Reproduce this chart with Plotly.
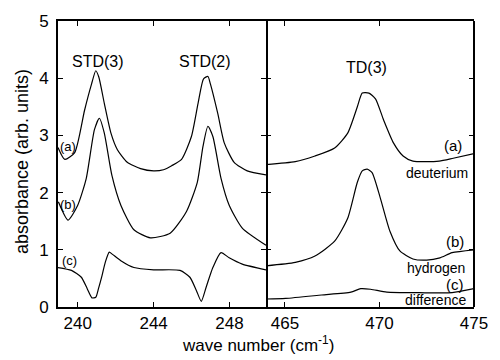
import plotly.graph_objects as go
from plotly.subplots import make_subplots

# ---- data ----
left_a_x = [238.96, 239.32, 239.84, 240.36, 240.73, 240.95, 241.11, 241.40, 241.75, 242.09, 242.61,
            243.31, 244.0, 244.52, 244.95, 245.47, 245.99, 246.34, 246.63, 246.86, 246.99, 247.38,
            247.72, 248.24, 248.93, 249.92]
left_a_y = [2.79, 2.58, 2.70, 3.44, 3.90, 4.13, 4.02, 3.56, 3.04, 2.75, 2.53,
            2.42, 2.38, 2.40, 2.47, 2.58, 2.98, 3.56, 3.99, 4.03, 3.90, 3.38,
            2.87, 2.53, 2.38, 2.31]

left_b_x = [238.98, 239.49, 240.0, 240.45, 240.88, 241.14, 241.40, 241.80, 242.27, 242.96, 243.83,
            244.87, 245.73, 246.30, 246.60, 246.86, 247.12, 247.55, 247.98, 248.67, 249.92]
left_b_y = [1.84, 1.52, 1.78, 2.25, 3.10, 3.30, 3.04, 2.30, 1.78, 1.35, 1.21,
            1.29, 1.67, 2.18, 2.81, 3.16, 2.98, 2.25, 1.78, 1.38, 1.08]

left_c_x = [238.96, 239.67, 240.19, 240.50, 240.75, 240.95, 241.10, 241.28, 241.45, 241.66, 241.83,
            242.27, 242.96, 244.0, 245.39, 245.91, 246.25, 246.51, 246.77, 247.12, 247.55,
            247.98, 248.67, 249.92]
left_c_y = [0.69, 0.64, 0.52, 0.32, 0.16, 0.17, 0.33, 0.55, 0.78, 0.96, 0.92,
            0.81, 0.69, 0.65, 0.64, 0.52, 0.29, 0.10, 0.35, 0.69, 0.95,
            0.86, 0.75, 0.65]

right_a_x = [464.0, 465.55, 466.59, 467.63, 468.32, 468.83, 469.09, 469.44, 469.79, 470.22, 470.74,
             471.25, 471.77, 472.46, 473.16, 473.9, 475.0]
right_a_y = [2.49, 2.54, 2.64, 2.78, 3.04, 3.50, 3.74, 3.74, 3.64, 3.27, 2.87,
             2.64, 2.55, 2.54, 2.55, 2.60, 2.68]

right_b_x = [464.0, 465.55, 466.59, 467.63, 468.32, 468.83, 469.09, 469.35, 469.61, 470.05, 470.56,
             471.08, 471.77, 472.5, 473.2, 473.84, 475.0]
right_b_y = [0.72, 0.78, 0.89, 1.15, 1.55, 2.18, 2.38, 2.41, 2.35, 1.90, 1.32,
             0.98, 0.84, 0.82, 0.86, 0.95, 1.00]

right_c_x = [464.0, 465.04, 466.94, 468.49, 469.01, 469.53, 470.39, 472.12, 473.84, 475.0]
right_c_y = [0.14, 0.15, 0.21, 0.26, 0.32, 0.31, 0.26, 0.25, 0.25, 0.32]

left_ticks = [240, 244, 248]
right_ticks = [465, 470, 475]
y_ticks = [0, 1, 2, 3, 4, 5]

FONT = "Liberation Sans, Arial, Helvetica, sans-serif"

fig = make_subplots(rows=1, cols=2, shared_yaxes=True, horizontal_spacing=0)

line = dict(color="black", width=1.2, shape="spline", smoothing=0.6)
for xs, ys in [(left_a_x, left_a_y), (left_b_x, left_b_y), (left_c_x, left_c_y)]:
    fig.add_trace(go.Scatter(x=xs, y=ys, mode="lines", line=line, showlegend=False,
                             hoverinfo="skip"), row=1, col=1)
for xs, ys in [(right_a_x, right_a_y), (right_b_x, right_b_y), (right_c_x, right_c_y)]:
    fig.add_trace(go.Scatter(x=xs, y=ys, mode="lines", line=line, showlegend=False,
                             hoverinfo="skip"), row=1, col=2)

axis_common = dict(showline=True, linecolor="black", linewidth=2, mirror="ticks",
                   ticks="inside", ticklen=5, tickwidth=1.2, tickcolor="black",
                   showgrid=False, zeroline=False,
                   tickfont=dict(family=FONT, size=17, color="black"))

fig.update_xaxes(axis_common)
fig.update_yaxes(axis_common)
fig.update_layout(
    xaxis=dict(domain=[0, 0.5], range=[238.96, 249.92], tickvals=left_ticks),
    xaxis2=dict(domain=[0.5, 1], range=[464.0, 475.0], tickvals=right_ticks),
    yaxis=dict(range=[0, 5], tickvals=y_ticks, ticklabelstandoff=4),
    yaxis2=dict(range=[0, 5], tickvals=y_ticks, showticklabels=False, showline=False),
)
# right border of the right panel (its left border is the left panel's mirrored line)
fig.add_shape(type="line", xref="paper", yref="paper", x0=1, x1=1, y0=0, y1=1,
              line=dict(color="black", width=2))

ann_font_big = dict(family=FONT, size=16, color="black")
ann_font_sm = dict(family=FONT, size=13, color="black")
ann_font_r = dict(family=FONT, size=15, color="black")
ann_font_w = dict(family=FONT, size=14, color="black")

labels = [
    ("x", 241.09, 4.30, "STD(3)", ann_font_big),
    ("x", 246.73, 4.30, "STD(2)", ann_font_big),
    ("x2", 469.31, 4.19, "TD(3)", ann_font_big),
    ("x", 239.48, 2.80, "(a)", ann_font_sm),
    ("x", 239.48, 1.79, "(b)", ann_font_sm),
    ("x", 239.56, 0.82, "(c)", ann_font_sm),
    ("x2", 473.90, 2.82, "(a)", ann_font_r),
    ("x2", 473.02, 2.35, "deuterium", ann_font_w),
    ("x2", 473.97, 1.14, "(b)", ann_font_r),
    ("x2", 473.00, 0.68, "hydrogen", ann_font_w),
    ("x2", 473.97, 0.40, "(c)", ann_font_r),
    ("x2", 472.94, 0.12, "difference", ann_font_w),
]
for xr, x, y, t, f in labels:
    fig.add_annotation(xref=xr, yref="y", x=x, y=y, text=t, showarrow=False,
                       font=f, xanchor="center", yanchor="middle")

fig.add_annotation(xref="paper", yref="paper", x=0.48, y=-0.131,
                   text="wave number (cm<sup>-1</sup>)", showarrow=False,
                   font=dict(family=FONT, size=17, color="black"),
                   xanchor="center", yanchor="middle")
fig.add_annotation(xref="paper", yref="paper", x=-0.085, y=0.509,
                   text="absorbance (arb. units)", showarrow=False, textangle=-90,
                   font=dict(family=FONT, size=18, color="black"),
                   xanchor="center", yanchor="middle")

fig.update_layout(width=500, height=360, margin=dict(l=58, r=19, t=16, b=53),
                  paper_bgcolor="white", plot_bgcolor="white",
                  font=dict(family=FONT, color="black"))

fig.write_html("out.html", config={"displayModeBar": False},
               post_script="document.body.style.margin='0';")
